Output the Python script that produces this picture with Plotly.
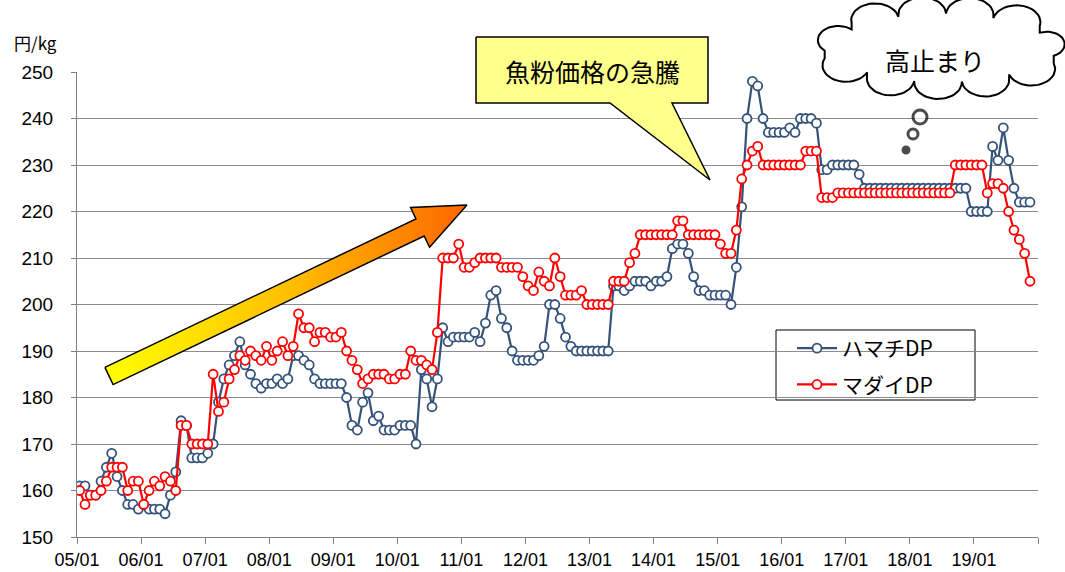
import numpy as np
import plotly.graph_objects as go

W, H = 1065, 572

# ---------------- data (monthly, 2005/01 .. 2019/11) ----------------
tick_labels = ["05/01", "06/01", "07/01", "08/01", "09/01", "10/01", "11/01", "12/01",
               "13/01", "14/01", "15/01", "16/01", "17/01", "18/01", "19/01"]

hamachi_2005 = [161, 161, 159, 159, 162, 165, 168, 163, 160, 157, 157, 156]
hamachi_2006 = [157, 156, 156, 156, 155, 159, 164, 175, 174, 167, 167, 167]
hamachi_2007 = [168, 170, 179, 184, 187, 189, 192, 187, 185, 183, 182, 183]
hamachi_2008 = [183, 184, 183, 184, 189, 189, 188, 187, 184, 183, 183, 183]
hamachi_2009 = [183, 183, 180, 174, 173, 179, 181, 175, 176, 173, 173, 173]
hamachi_2010 = [174, 174, 174, 170, 186, 184, 178, 184, 195, 192, 193, 193]
hamachi_2011 = [193, 193, 194, 192, 196, 202, 203, 197, 195, 190, 188, 188]
hamachi_2012 = [188, 188, 189, 191, 200, 200, 197, 193, 191, 190, 190, 190]
hamachi_2013 = [190, 190, 190, 190, 204, 204, 203, 204, 205, 205, 205, 204]
hamachi_2014 = [205, 205, 206, 212, 213, 213, 211, 206, 203, 203, 202, 202]
hamachi_2015 = [202, 202, 200, 208, 221, 240, 248, 247, 240, 237, 237, 237]
hamachi_2016 = [237, 238, 237, 240, 240, 240, 239, 229, 229, 230, 230, 230]
hamachi_2017 = [230, 230, 228, 225, 225, 225, 225, 225, 225, 225, 225, 225]
hamachi_2018 = [225, 225, 225, 225, 225, 225, 225, 225, 225, 225, 225, 220]
hamachi_2019 = [220, 220, 220, 234, 231, 238, 231, 225, 222, 222, 222]

madai_2005 = [160, 157, 159, 159, 160, 162, 165, 165, 165, 160, 162, 162]
madai_2006 = [157, 160, 162, 161, 163, 162, 160, 174, 174, 170, 170, 170]
madai_2007 = [170, 185, 177, 179, 184, 186, 189, 188, 190, 189, 188, 191]
madai_2008 = [188, 190, 192, 189, 191, 198, 195, 195, 192, 194, 194, 193]
madai_2009 = [193, 194, 190, 188, 186, 183, 184, 185, 185, 185, 184, 184]
madai_2010 = [185, 185, 190, 188, 188, 187, 186, 194, 210, 210, 210, 213]
madai_2011 = [208, 208, 209, 210, 210, 210, 210, 208, 208, 208, 208, 206]
madai_2012 = [204, 203, 207, 205, 204, 210, 206, 202, 202, 202, 203, 200]
madai_2013 = [200, 200, 200, 200, 205, 205, 205, 209, 211, 215, 215, 215]
madai_2014 = [215, 215, 215, 215, 218, 218, 215, 215, 215, 215, 215, 215]
madai_2015 = [213, 211, 211, 216, 227, 230, 233, 234, 230, 230, 230, 230]
madai_2016 = [230, 230, 230, 230, 233, 233, 233, 223, 223, 223, 224, 224]
madai_2017 = [224, 224, 224, 224, 224, 224, 224, 224, 224, 224, 224, 224]
madai_2018 = [224, 224, 224, 224, 224, 224, 224, 224, 230, 230, 230, 230]
madai_2019 = [230, 230, 224, 226, 226, 225, 220, 216, 214, 211, 205]

hamachi = (hamachi_2005 + hamachi_2006 + hamachi_2007 + hamachi_2008 + hamachi_2009 +
           hamachi_2010 + hamachi_2011 + hamachi_2012 + hamachi_2013 + hamachi_2014 +
           hamachi_2015 + hamachi_2016 + hamachi_2017 + hamachi_2018 + hamachi_2019)
madai = (madai_2005 + madai_2006 + madai_2007 + madai_2008 + madai_2009 +
         madai_2010 + madai_2011 + madai_2012 + madai_2013 + madai_2014 +
         madai_2015 + madai_2016 + madai_2017 + madai_2018 + madai_2019)
month_idx = list(range(len(hamachi)))

# ---------------- figure ----------------
BLUE = "#34527A"
RED = "#FF0000"
FONT = "Noto Sans CJK JP"
TICKFONT = "Liberation Sans Narrow, Arial Narrow, Liberation Sans"

fig = go.Figure()

fig.add_trace(go.Scatter(
    x=month_idx, y=hamachi, mode="lines+markers", name="ハマチDP",
    line=dict(color=BLUE, width=2.2),
    marker=dict(symbol="circle", size=9, color="white", line=dict(color=BLUE, width=1.8)),
    legendgroup="a"))
fig.add_trace(go.Scatter(
    x=month_idx, y=madai, mode="lines+markers", name="マダイDP",
    line=dict(color=RED, width=2.2),
    marker=dict(symbol="circle", size=9, color="white", line=dict(color=RED, width=1.8)),
    legendgroup="b"))

# ---- decorations in pixel space (overlay subplot x2/y2) ----
# gradient arrow
tail = np.array([109.0, 376.0])
tip = np.array([467.0, 205.0])
u = (tip - tail) / np.linalg.norm(tip - tail)
n = np.array([-u[1], u[0]])
head_len, shaft_hw, head_hw = 52.0, 9.5, 22.0
S = tip - head_len * u
pts = [tail - shaft_hw * n, S - shaft_hw * n, S - head_hw * n, tip,
       S + head_hw * n, S + shaft_hw * n, tail + shaft_hw * n, tail - shaft_hw * n]
fig.add_trace(go.Scatter(
    x=[p[0] for p in pts], y=[p[1] for p in pts], xaxis="x2", yaxis="y2",
    mode="lines", fill="toself", line=dict(color="black", width=1.5),
    fillgradient=dict(type="horizontal",
                      colorscale=[[0, "#FFFF00"], [0.5, "#FFC000"], [1, "#FF6600"]]),
    showlegend=False, hoverinfo="skip"))

# callout box
cx = [476, 708, 708, 672, 710, 610, 476, 476]
cy = [37, 37, 103, 103, 180, 103, 103, 37]
fig.add_trace(go.Scatter(
    x=cx, y=cy, xaxis="x2", yaxis="y2", mode="lines", fill="toself",
    fillcolor="#FFFF8C", line=dict(color="black", width=1.5),
    showlegend=False, hoverinfo="skip"))

# cloud: scalloped outline, bumps evenly spaced along an ellipse
ccx, ccy, a, b = 942.0, 48.0, 120.0, 35.0
N = 11
tt = np.linspace(0, 2 * np.pi, 2000)
ex, ey = ccx + a * np.cos(tt), ccy + b * np.sin(tt)
seg = np.hypot(np.diff(ex), np.diff(ey))
cum = np.concatenate([[0], np.cumsum(seg)])
targets = np.linspace(0, cum[-1], N + 1) + cum[-1] * 0.03
targets = targets % cum[-1]
idx = [int(np.searchsorted(cum, tv)) % len(tt) for tv in targets]
base = np.stack([ex[idx], ey[idx]], axis=1)
cloud = []
for i in range(N):
    p0, p1 = base[i], base[i + 1]
    mid = (p0 + p1) / 2
    r = np.linalg.norm(p1 - p0) / 2
    a0 = np.arctan2(p0[1] - mid[1], p0[0] - mid[0])
    outward = mid - np.array([ccx, ccy])
    ao = np.arctan2(outward[1], outward[0])
    diff = (ao - a0 + np.pi) % (2 * np.pi) - np.pi
    sweep = np.pi if diff > 0 else -np.pi
    t = np.linspace(a0, a0 + sweep, 24)
    arc = np.stack([mid[0] + r * np.cos(t), mid[1] + 0.7 * r * np.sin(t)], axis=1)
    cloud.extend(arc.tolist())
cloud.append(cloud[0])
fig.add_trace(go.Scatter(
    x=[p[0] for p in cloud], y=[p[1] for p in cloud], xaxis="x2", yaxis="y2",
    mode="lines", fill="toself", fillcolor="white", line=dict(color="black", width=2),
    showlegend=False, hoverinfo="skip"))
fig.add_trace(go.Scatter(
    x=[920, 913, 906], y=[117, 134, 150], xaxis="x2", yaxis="y2", mode="markers",
    marker=dict(size=[14, 10, 6], color=["white", "white", "black"],
                line=dict(color="black", width=3)),
    showlegend=False, hoverinfo="skip"))

fig.update_layout(
    width=W, height=H, margin=dict(l=0, r=0, t=0, b=0, autoexpand=False),
    paper_bgcolor="white", plot_bgcolor="rgba(0,0,0,0)",
    font=dict(family=FONT, color="black"),
    xaxis=dict(domain=[77 / W, 1038 / W], range=[-0.5, 179.5], automargin=False,
               tickvals=[-0.5 + 12 * k for k in range(16)],
               ticktext=tick_labels + [""],
               ticks="outside", ticklen=6, tickcolor="#7f7f7f",
               showline=True, linecolor="#7f7f7f", linewidth=1,
               showgrid=False, zeroline=False,
               tickfont=dict(family=TICKFONT, size=18, color="black")),
    yaxis=dict(domain=[1 - 537 / H, 1 - 72 / H], range=[150, 250], dtick=10,
               automargin=False,
               ticks="outside", ticklen=5, tickcolor="#7f7f7f",
               showline=True, linecolor="#7f7f7f", linewidth=1,
               showgrid=True, gridcolor="#8c8c8c", gridwidth=1, zeroline=False,
               tickfont=dict(family=TICKFONT, size=19, color="black"),
               ticklabelstandoff=14),
    xaxis2=dict(domain=[0, 1], range=[0, W], visible=False, anchor="y2",
                fixedrange=True, automargin=False),
    yaxis2=dict(domain=[0, 1], range=[H, 0], visible=False, anchor="x2",
                fixedrange=True, automargin=False),
    legend=dict(x=792 / W, y=1 - 328 / H, xanchor="left", yanchor="top",
                bgcolor="rgba(0,0,0,0)", borderwidth=0,
                font=dict(family=FONT, size=21), traceorder="grouped",
                tracegroupgap=6, itemwidth=40),
    shapes=[dict(type="rect", xref="paper", yref="paper",
                 x0=776 / W, x1=975 / W, y0=1 - 400 / H, y1=1 - 330 / H,
                 line=dict(color="black", width=1), fillcolor="white", layer="below")],
    annotations=[
        dict(xref="paper", yref="paper", x=36 / W, y=1 - 42 / H, text="円/kg",
             xanchor="center", yanchor="middle",
             showarrow=False, font=dict(family=FONT, size=17)),
        dict(xref="paper", yref="paper", x=592 / W, y=1 - 71 / H, text="魚粉価格の急騰",
             xanchor="center", yanchor="middle",
             showarrow=False, font=dict(family=FONT, size=25)),
        dict(xref="paper", yref="paper", x=935 / W, y=1 - 60 / H, text="高止まり",
             xanchor="center", yanchor="middle",
             showarrow=False, font=dict(family=FONT, size=25)),
    ],
)

fig.write_html("out.html")
